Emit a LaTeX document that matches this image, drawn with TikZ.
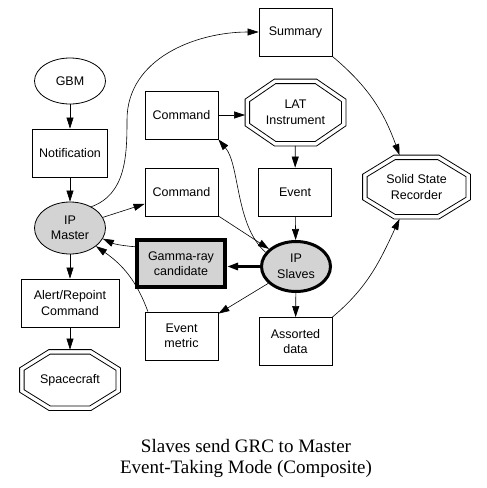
\documentclass[tikz,border=0pt]{standalone}
\usepackage{fontspec}
\setmainfont{Liberation Serif}
\setsansfont{Liberation Sans}
\usetikzlibrary{arrows.meta,calc,shapes.geometric}
\definecolor{gmgray}{HTML}{D3D3D3}
\tikzset{
  gmline/.style={draw=black, line width=0.8pt},
  gmbox/.style={gmline, rectangle, minimum width=73pt, minimum height=48pt,
                inner sep=1pt, align=center,
                font=\sffamily\fontsize{12.5}{15.5}\selectfont},
  gmoval/.style={gmbox, ellipse, minimum width=71pt, minimum height=46pt},
  gmoct/.style={gmbox, draw=none},
  gmedge/.style={-{Triangle[length=11pt,width=7pt]}, draw=black, line width=0.6pt},
  gmheavy/.style={gmedge, line width=3pt},
  gmtitle/.style={font=\fontsize{19}{21}\selectfont, align=center, inner sep=0pt},
}
% one ring of a double octagon, #2 = inset
\newcommand{\gmoctring}[2]{%
  \draw[gmline] let \p1=(#1.south west), \p2=(#1.north east),
      \n1={0.29*(\x2-\x1)-0.7*#2}, \n2={0.3*(\y2-\y1)-0.47*#2}, \n3={#2} in
    (\x1+\n3*1pt+\n1*1pt, \y2-\n3*1pt) -- (\x2-\n3*1pt-\n1*1pt, \y2-\n3*1pt)
    -- (\x2-\n3*1pt, \y2-\n3*1pt-\n2*1pt) -- (\x2-\n3*1pt, \y1+\n3*1pt+\n2*1pt)
    -- (\x2-\n3*1pt-\n1*1pt, \y1+\n3*1pt) -- (\x1+\n3*1pt+\n1*1pt, \y1+\n3*1pt)
    -- (\x1+\n3*1pt, \y1+\n3*1pt+\n2*1pt) -- (\x1+\n3*1pt, \y2-\n3*1pt-\n2*1pt)
    -- cycle;}
\newcommand{\gmoctagon}[1]{\gmoctring{#1}{0}\gmoctring{#1}{4.5}}

\begin{document}
\begin{tikzpicture}[x=1pt,y=-1pt]
  \useasboundingbox (0,0) rectangle (487,488);

  % left column
  \node[gmoval] (gbm) at (70,81) {GBM};
  \node[gmbox, minimum width=75pt] (notif) at (70,153) {Notification};
  \node[gmoval, fill=gmgray, minimum height=52pt] (master) at (70,228) {IP\\Master};
  \node[gmbox, minimum width=98pt] (alert) at (70,303) {Alert/Repoint\\Command};
  \node[gmoct, minimum width=100pt, minimum height=60pt] (craft) at (70,380) {Spacecraft};

  % middle column
  \node[gmbox] (cmdup) at (181.5,115) {Command};
  \node[gmbox] (cmdlow) at (181.5,192) {Command};
  \node[gmbox, fill=gmgray, line width=4pt, minimum width=88pt, minimum height=47pt]
    (grc) at (181,263.5) {Gamma-ray\\candidate};
  \node[gmbox] (emetric) at (181.5,336) {Event\\metric};

  % right column
  \node[gmbox] (summary) at (295.5,32) {Summary};
  \node[gmoct, minimum width=100pt, minimum height=66pt] (lat) at (295.5,112.5) {LAT\\Instrument};
  \node[gmbox] (event) at (295,192) {Event};
  \node[gmoval, fill=gmgray, line width=3pt, minimum width=69pt, minimum height=50pt]
    (slaves) at (296,266.5) {IP\\Slaves};
  \node[gmbox] (assorted) at (295.5,341.5) {Assorted\\data};
  \node[gmoct, minimum width=107pt, minimum height=63pt] (ssr) at (416.5,187) {Solid State\\Recorder};

  \gmoctagon{craft}
  \gmoctagon{lat}
  \gmoctagon{ssr}

  \draw[gmedge] (gbm) -- (notif);
  \draw[gmedge] (notif) -- (master);
  \draw[gmedge] (master) -- (alert);
  \draw[gmedge] (alert) -- (craft);
  \draw[gmedge] (master) -- (cmdlow);
  \draw[gmedge] (master.45) to[out=20,in=-90] (127,120) to[out=90,in=180] (summary.west);
  \draw[gmedge] (cmdup.east) -- (cmdup.east -| lat.west);
  \draw[gmedge] (lat) -- (event);
  \draw[gmedge] (event) -- (slaves);
  \draw[gmedge] (cmdlow) -- (slaves);
  \draw[gmedge] (slaves.155) .. controls (235,225) and (240,165) .. (cmdup.south east);
  \draw[gmheavy] (slaves.west) -- (slaves.west -| grc.east);
  \draw[gmedge] (grc.160) to[out=175,in=-25] (master.-18);
  \draw[gmedge] (emetric.144) to[out=110,in=-35] (master.-35);
  \draw[gmedge] (slaves) -- (emetric);
  \draw[gmedge] (slaves) -- (assorted);
  \draw[gmedge] (assorted.north east) to[out=40,in=-115] (ssr.-118);
  \draw[gmedge] (summary.south east) to[out=-40,in=110] (ssr.118);

  \node[gmtitle] (title) at (246,458) {Slaves send GRC to Master\\Event-Taking Mode (Composite)};
\end{tikzpicture}
\end{document}
